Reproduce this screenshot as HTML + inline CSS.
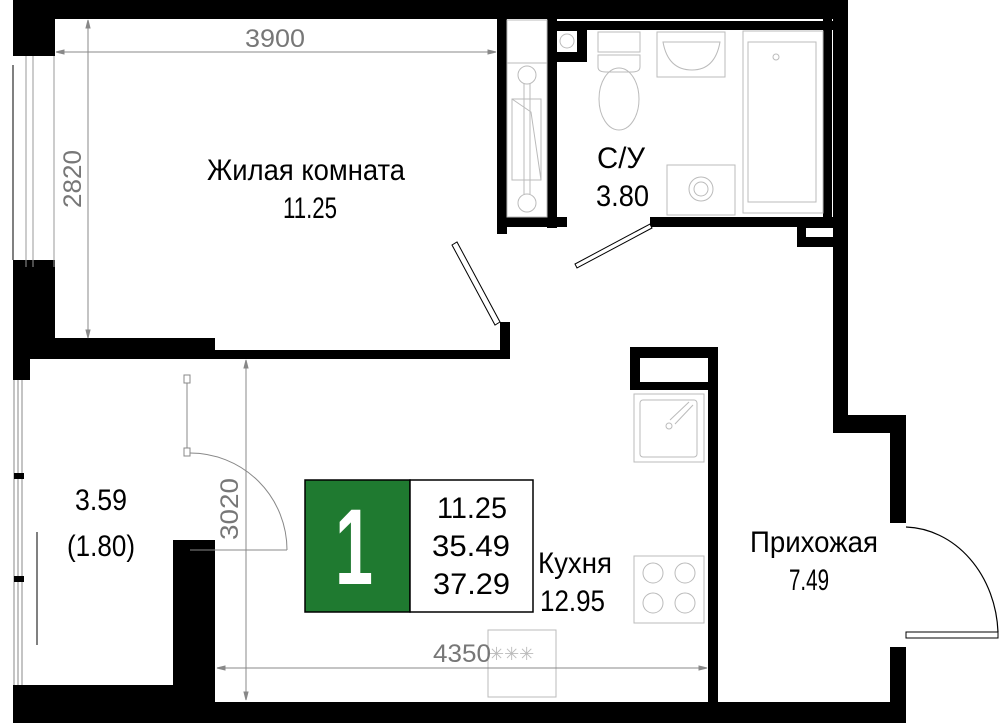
<!DOCTYPE html>
<html><head><meta charset="utf-8"><style>
html,body{margin:0;padding:0;background:#fff;}
svg{display:block;font-family:"Liberation Sans","Noto Sans CJK SC",sans-serif;}
</style></head><body>
<svg width="1000" height="723" viewBox="0 0 1000 723" xmlns="http://www.w3.org/2000/svg">
<rect width="1000" height="723" fill="#fff"/>
<g fill="#000">
<rect x="13" y="0" width="835" height="19"/>
<rect x="547" y="21" width="286" height="9"/>
<rect x="13" y="0" width="42" height="56"/>
<rect x="13" y="260" width="42" height="85"/>
<rect x="13" y="338" width="202" height="21"/>
<rect x="13" y="345" width="17" height="35"/>
<rect x="210" y="350" width="300" height="9"/>
<rect x="497" y="19" width="10" height="215"/>
<rect x="500" y="322" width="10" height="37"/>
<rect x="547" y="19" width="10" height="209"/>
<rect x="547" y="30" width="40" height="32"/>
<rect x="507" y="217" width="60" height="10"/>
<rect x="650" y="217" width="183" height="10"/>
<rect x="823" y="19" width="9" height="200"/>
<rect x="833" y="0" width="15" height="417"/>
<rect x="797" y="227" width="36" height="20"/>
<rect x="833" y="415" width="73" height="18"/>
<rect x="890" y="415" width="16" height="108"/>
<rect x="890" y="647" width="16" height="76"/>
<rect x="13" y="702" width="893" height="21"/>
<rect x="13" y="685" width="202" height="38"/>
<rect x="173" y="540" width="42" height="163"/>
<rect x="630" y="347" width="88" height="43"/>
<rect x="708" y="347" width="10" height="356"/>
</g>
<rect x="557" y="31" width="20" height="21" fill="#fff"/>
<rect x="806" y="228" width="27" height="9" fill="#fff"/>
<rect x="640" y="358" width="68" height="24" fill="#fff"/>
<rect x="13" y="56" width="42" height="204" fill="#fff"/>
<line x1="13" y1="65" x2="13" y2="260" stroke="#000" stroke-width="1"/>
<line x1="26" y1="56" x2="26" y2="267" stroke="#999" stroke-width="1"/>
<line x1="33" y1="56" x2="33" y2="267" stroke="#999" stroke-width="1"/>
<line x1="54" y1="56" x2="54" y2="267" stroke="#999" stroke-width="1"/>
<line x1="14" y1="380" x2="14" y2="685" stroke="#888" stroke-width="1"/>
<line x1="18" y1="380" x2="18" y2="685" stroke="#888" stroke-width="1"/>
<line x1="22" y1="380" x2="22" y2="685" stroke="#888" stroke-width="1"/>
<rect x="14" y="473" width="10" height="6" fill="#000"/>
<rect x="14" y="576" width="10" height="6" fill="#000"/>
<line x1="37" y1="532" x2="37" y2="645" stroke="#000" stroke-width="1"/>
<g stroke="#888" fill="#fff" stroke-width="1">
<rect x="184" y="375" width="6" height="8"/>
<rect x="184" y="448" width="6" height="8"/>
<line x1="187" y1="383" x2="187" y2="448"/>
<path d="M190 453 A97 97 0 0 1 287 550" fill="none"/>
<line x1="190" y1="550" x2="287" y2="550"/>
</g>
<polygon points="452,245 457,242 500,322 495,325" fill="#fff" stroke="#000" stroke-width="1"/>
<polygon points="575,264 577,268 652,228 650,224" fill="#fff" stroke="#000" stroke-width="1"/>
<path d="M906 527 A95 110 0 0 1 998 632" fill="none" stroke="#000" stroke-width="1.2"/>
<rect x="906" y="632" width="92" height="6" fill="#fff" stroke="#000" stroke-width="1"/>
<g fill="none" stroke="#bbb" stroke-width="1">
<rect x="507" y="20" width="40" height="197"/>
<line x1="507" y1="63" x2="547" y2="63"/>
<circle cx="527" cy="75" r="9"/><circle cx="527" cy="203" r="9"/>
<line x1="524" y1="84" x2="524" y2="194"/><line x1="530" y1="84" x2="530" y2="194"/>
<rect x="512" y="99" width="29" height="81"/>
<polyline points="512,99 531,112 541,180"/>
<circle cx="567" cy="41" r="7"/>
<rect x="598" y="32" width="42" height="20"/>
<path d="M598 55 h42 v12 q0 5 -8 5 h-26 q-8 0 -8 -5 z"/>
<ellipse cx="619" cy="99" rx="20" ry="31"/>
<rect x="657" y="32" width="68" height="45"/>
<path d="M663 42 h57 q-5 28 -28 28 q-24 0 -29 -28 z"/>
<rect x="743" y="31" width="80" height="182"/>
<rect x="748" y="42" width="68" height="160"/>
<circle cx="776" cy="57" r="3"/>
<rect x="667" y="165" width="68" height="50"/>
<circle cx="701" cy="189" r="12"/><circle cx="701" cy="189" r="7"/>
<rect x="634" y="394" width="70" height="68"/>
<rect x="640" y="400" width="57" height="57" rx="3"/>
<circle cx="669" cy="426" r="3"/>
<line x1="670" y1="420" x2="689" y2="402"/><line x1="675" y1="424" x2="693" y2="405"/>
<rect x="634" y="556" width="70" height="67"/>
<circle cx="653" cy="573" r="10"/><circle cx="685" cy="573" r="10"/>
<circle cx="653" cy="603" r="10"/><circle cx="685" cy="603" r="10"/>
<rect x="488" y="630" width="68" height="67"/>
</g>
<text x="489" y="660" font-size="18" fill="#bbb">✳✳✳</text>
<g stroke="#888" stroke-width="1" fill="#888">
<line x1="56" y1="52" x2="496" y2="52"/>
<line x1="88" y1="20" x2="88" y2="338"/>
<line x1="246" y1="360" x2="246" y2="700"/>
<line x1="217" y1="668" x2="707" y2="668"/>
<polygon points="56,52 64,50 64,54"/><polygon points="496,52 488,50 488,54"/>
<polygon points="88,20 86,28 90,28"/><polygon points="88,338 86,330 90,330"/>
<polygon points="246,360 244,368 248,368"/><polygon points="246,700 244,692 248,692"/>
<polygon points="217,668 225,666 225,670"/><polygon points="707,668 699,666 699,670"/>
</g>
<g fill="#777" font-size="25" lengthAdjust="spacingAndGlyphs">
<text x="245" y="47" textLength="60" lengthAdjust="spacingAndGlyphs">3900</text>
<text transform="translate(81,208) rotate(-90)" textLength="58" lengthAdjust="spacingAndGlyphs">2820</text>
<text transform="translate(238,540) rotate(-90)" textLength="62" lengthAdjust="spacingAndGlyphs">3020</text>
<text x="433" y="662" textLength="58" lengthAdjust="spacingAndGlyphs">4350</text>
</g>
<rect x="305" y="480" width="105" height="132" fill="#1f7a30" stroke="#000" stroke-width="1.5"/>
<rect x="410" y="480" width="123" height="132" fill="#fff" stroke="#000" stroke-width="1.5"/>
<text x="335" y="584" font-size="108" font-weight="bold" fill="#fff" textLength="38" lengthAdjust="spacingAndGlyphs">1</text>
<g font-size="30" fill="#000">
<text x="437" y="518" textLength="70" lengthAdjust="spacingAndGlyphs">11.25</text>
<text x="432" y="556" textLength="78" lengthAdjust="spacingAndGlyphs">35.49</text>
<text x="433" y="594" textLength="77" lengthAdjust="spacingAndGlyphs">37.29</text>
<text x="207" y="180" textLength="198" lengthAdjust="spacingAndGlyphs">Жилая комната</text>
<text x="283" y="218" textLength="54" lengthAdjust="spacingAndGlyphs">11.25</text>
<text x="597" y="168" textLength="48" lengthAdjust="spacingAndGlyphs">С/У</text>
<text x="596" y="206" textLength="53" lengthAdjust="spacingAndGlyphs">3.80</text>
<text x="75" y="510" textLength="52" lengthAdjust="spacingAndGlyphs">3.59</text>
<text x="67" y="556" textLength="68" lengthAdjust="spacingAndGlyphs">(1.80)</text>
<text x="538" y="573" textLength="74" lengthAdjust="spacingAndGlyphs">Кухня</text>
<text x="540" y="611" textLength="65" lengthAdjust="spacingAndGlyphs">12.95</text>
<text x="750" y="552" textLength="128" lengthAdjust="spacingAndGlyphs">Прихожая</text>
<text x="789" y="590" textLength="40" lengthAdjust="spacingAndGlyphs">7.49</text>
</g>
</svg>
</body></html>
